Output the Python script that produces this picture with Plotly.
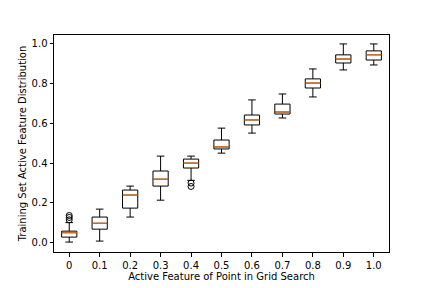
import plotly.graph_objects as go

labels = ["0", "0.1", "0.2", "0.3", "0.4", "0.5", "0.6", "0.7", "0.8", "0.9", "1.0"]
lower = [0.002, 0.007, 0.128, 0.213, 0.313, 0.450, 0.551, 0.627, 0.733, 0.869, 0.894]
q1 = [0.027, 0.067, 0.173, 0.284, 0.375, 0.471, 0.592, 0.647, 0.778, 0.904, 0.919]
median = [0.049, 0.097, 0.239, 0.319, 0.400, 0.481, 0.617, 0.657, 0.803, 0.924, 0.945]
q3 = [0.057, 0.128, 0.264, 0.360, 0.420, 0.516, 0.642, 0.697, 0.824, 0.945, 0.965]
upper = [0.100, 0.168, 0.284, 0.435, 0.435, 0.576, 0.718, 0.748, 0.874, 1.000, 1.000]
outlier_group = [0, 0, 0, 4, 4]
outlier_vals = [0.114, 0.126, 0.136, 0.299, 0.282]

pos = list(range(len(labels)))
half = 0.25

fig = go.Figure()
fig.add_trace(go.Box(
    x=pos, q1=q1, median=median, q3=q3, lowerfence=lower, upperfence=upper,
    width=2 * half, whiskerwidth=0.5,
    line=dict(color="black", width=1), fillcolor="rgba(0,0,0,0)",
    boxpoints=False, showlegend=False, hoverinfo="skip",
))

mx, my = [], []
for p, m in zip(pos, median):
    mx += [p - half, p + half, None]
    my += [m, m, None]
fig.add_trace(go.Scatter(x=mx, y=my, mode="lines",
                         line=dict(color="#ff7f0e", width=1), showlegend=False, hoverinfo="skip"))

fig.add_trace(go.Scatter(
    x=[pos[g] for g in outlier_group], y=outlier_vals, mode="markers",
    marker=dict(symbol="circle-open", size=6, color="black", line=dict(width=1)),
    showlegend=False, hoverinfo="skip"))

axis_common = dict(showgrid=False, zeroline=False, showline=True, linecolor="black",
                   linewidth=1, mirror=True, ticks="outside", ticklen=3.5, tickwidth=1,
                   tickcolor="black", automargin=False,
                   tickfont=dict(family="DejaVu Sans", size=10, color="black"))

fig.update_layout(
    width=432, height=288,
    margin=dict(l=54, r=43, t=35, b=36),
    paper_bgcolor="white", plot_bgcolor="white",
    font=dict(family="DejaVu Sans", size=10, color="black"),
    xaxis=dict(range=[-0.5, 10.5], tickvals=pos, ticktext=labels,
               title=dict(text="Active Feature of Point in Grid Search", standoff=3,
                          font=dict(size=10)),
               **axis_common),
    yaxis=dict(range=[-0.048, 1.045], tickvals=[0, 0.2, 0.4, 0.6, 0.8, 1.0],
               ticktext=["0.0", "0.2", "0.4", "0.6", "0.8", "1.0"],
               title=dict(text="Training Set Active Feature Distribution", standoff=3,
                          font=dict(size=10)),
               **axis_common),
)
fig.write_html("out.html", config={"displayModeBar": False},
               post_script="document.body.style.margin='0';")
